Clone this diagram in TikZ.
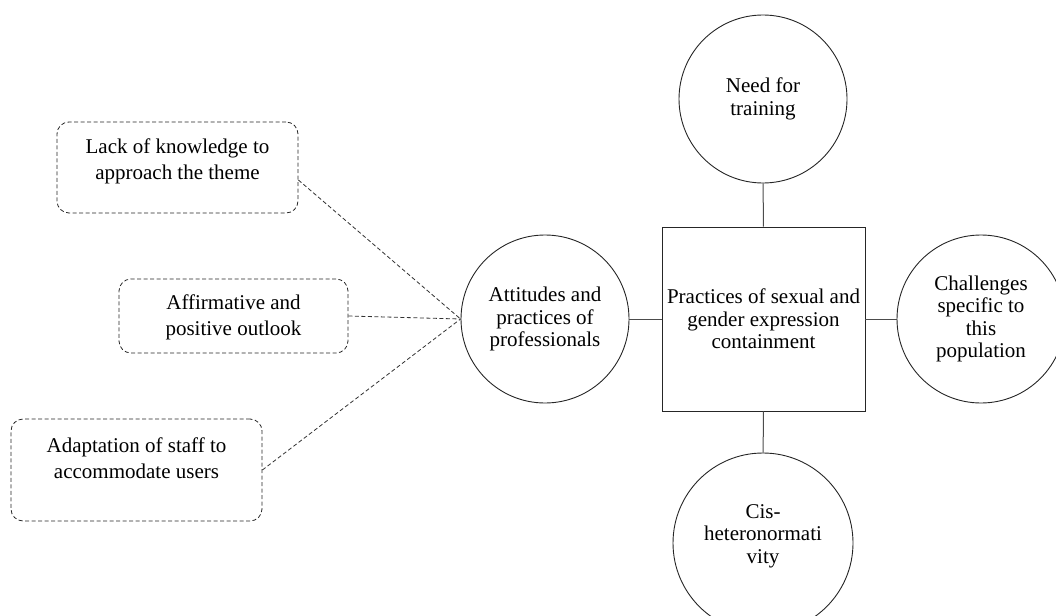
\documentclass[tikz,border=0pt]{standalone}
\usepackage{fontspec}
\setmainfont{Liberation Serif}
\usetikzlibrary{calc}
\begin{document}
\begin{tikzpicture}[x=1pt,y=-1pt,
  txt/.style={font=\fontsize{21}{22.5}\selectfont, align=center, inner sep=0pt},
  btxt/.style={font=\fontsize{21}{26}\selectfont, align=center, inner sep=0pt},
  circ/.style={circle, draw=black!85, line width=0.9pt, minimum size=168pt, inner sep=0pt, txt},
  sq/.style={rectangle, draw=black!85, line width=0.9pt, minimum width=203pt, minimum height=184pt, inner sep=0pt, txt},
  dbox/.style={rectangle, rounded corners=12pt, draw=black!85, line width=0.8pt, dash pattern=on 4pt off 2.5pt, inner sep=0pt},
  solidlink/.style={draw=black!70, line width=1pt},
  dashlink/.style={draw=black!80, line width=0.8pt, dash pattern=on 4pt off 2.5pt}]
\useasboundingbox (0,0) rectangle (1056,615);

\node[sq] (center) at (763.5,319) {Practices of sexual and\\gender expression\\containment};
\node[circ] (top) at (763,99) {Need for\\training};
\node[circ] (left) at (545,319) {Attitudes and\\practices of\\professionals};
\node[circ] (right) at (981,319) {Challenges\\specific to\\this\\population};
\node[circ, minimum size=180pt] (bottom) at (763,543) {};
\node[txt] (bottomtxt) at (763,536) {Cis-\\heteronormati\\vity};

\draw[solidlink] (top) -- (center);
\draw[solidlink] (center) -- (bottom);
\draw[solidlink] (left) -- (center);
\draw[solidlink] (center) -- (right);

\node[dbox, minimum width=241pt, minimum height=91pt] (b1) at (177.5,167.5) {};
\node[btxt] (b1txt) at (177.5,161) {Lack of knowledge to\\approach the theme};
\node[dbox, minimum width=229pt, minimum height=74pt] (b2) at (233.5,316) {};
\node[btxt] (b2txt) at (233.5,317) {Affirmative and\\positive outlook};
\node[dbox, minimum width=251pt, minimum height=102pt] (b3) at (136.5,470) {};
\node[btxt] (b3txt) at (136.5,458.5) {Adaptation of staff to\\accommodate users};

\coordinate (b1out) at ($(b1.east)+(0,12.5)$);
\draw[dashlink] (b1out) -- (left.west);
\draw[dashlink] (b2.east) -- (left.west);
\draw[dashlink] (b3.east) -- (left.west);
\end{tikzpicture}
\end{document}
